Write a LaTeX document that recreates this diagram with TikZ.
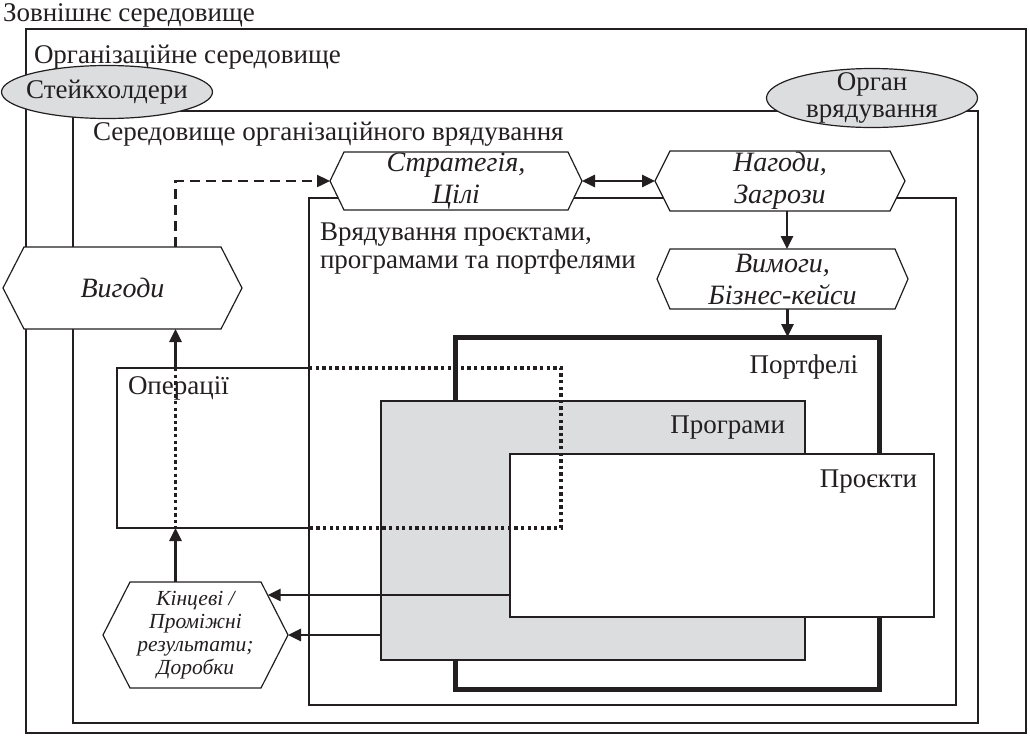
\documentclass[tikz,border=0pt]{standalone}
\usepackage{fontspec}
\setmainfont{Liberation Serif}
\usetikzlibrary{arrows.meta,calc,shapes.geometric}
\pgfdeclarelayer{front}
\pgfsetlayers{main,front}
\definecolor{ink}{HTML}{231F20}
\definecolor{lg}{HTML}{DCDDDF}
\newcommand\hexpath[2]{%
  \draw[hexline] (#1.west) -- ([xshift=#2]#1.north west) -- ([xshift=-#2]#1.north east) -- (#1.east) -- ([xshift=-#2]#1.south east) -- ([xshift=#2]#1.south west) -- cycle;}
\begin{document}
\begin{tikzpicture}[x=1pt,y=-1pt,
  envbox/.style={draw=ink,line width=2.4pt,inner sep=0pt,outer sep=0pt,anchor=north west},
  ghost/.style={inner sep=0pt,outer sep=0pt,anchor=north west},
  hexnode/.style={inner sep=0pt,outer sep=0pt,align=center,text=ink,font=\fontsize{28}{32}\selectfont\itshape},
  hexline/.style={draw=ink,fill=white,line width=1.2pt,line join=miter},
  ellnode/.style={ellipse,draw=ink,fill=lg,line width=1.2pt,inner sep=0pt,outer sep=0pt},
  txt/.style={inner sep=0pt,outer sep=0pt,text=ink,font=\fontsize{27}{30}\selectfont},
  arr/.style={draw=ink,line width=2.8pt,-{Triangle[length=13pt,width=12pt]}},
  biarr/.style={draw=ink,line width=2.8pt,{Triangle[length=13pt,width=12pt]}-{Triangle[length=13pt,width=12pt]}},
  dashln/.style={draw=ink,line width=2.4pt,dash pattern=on 10pt off 6pt,-{Triangle[length=13pt,width=12pt]}},
  dotln/.style={draw=ink,line width=3.3pt,dash pattern=on 3.3pt off 3.3pt},
]
\useasboundingbox (0,0) rectangle (1030,737);

% environment boxes
\node[envbox,minimum width=1000pt,minimum height=704pt] (org) at (26,29) {};
\node[envbox,minimum width=905pt,minimum height=612pt] (gov) at (73,111) {};
\node[envbox,minimum width=647pt,minimum height=507pt] (ppp) at (309,198) {};
\node[envbox,line width=5pt,minimum width=424pt,minimum height=352pt] (port) at (455,337) {};
\node[envbox,fill=lg,minimum width=424pt,minimum height=259pt] (prog) at (381,401) {};
\node[envbox,fill=white,minimum width=424pt,minimum height=163pt] (proj) at (510,454) {};
\node[ghost,minimum width=444pt,minimum height=160pt] (ops) at (117,368) {};

% operations (solid part)
\draw[draw=ink,line width=2.4pt] (ops.north -| ppp.west) -- (ops.north west) -- (ops.south west) -- (ops.south -| ppp.west);

% ellipses
\node[ellnode,minimum width=211pt,minimum height=53pt] (stk) at (107,92) {};
\node[ellnode,minimum width=211pt,minimum height=59pt] (organ) at (872,98) {};

% hexagon nodes (text on front layer)
\begin{pgfonlayer}{front}
\node[hexnode,minimum width=252pt,minimum height=58pt] (strat) at (456,181) {Стратегія,\\Цілі};
\node[hexnode,minimum width=250pt,minimum height=60pt] (nag) at (780,181) {Нагоди,\\Загрози};
\node[hexnode,minimum width=251pt,minimum height=60pt] (vym) at (782.5,279) {Вимоги,\\Бізнес-кейси};
\node[hexnode,minimum width=239pt,minimum height=82pt] (vyg) at (122.5,288) {Вигоди};
\node[hexnode,minimum width=185pt,minimum height=106pt,font=\fontsize{21.5}{23}\selectfont\itshape] (kin) at (195.5,635) {Кінцеві /\\Проміжні\\результати;\\Доробки};

\node[txt,anchor=base west] (tExt) at (3,21) {Зовнішнє середовище};
\node[txt,anchor=base west] (tOrg) at (34,63) {Організаційне середовище};
\node[txt] (tStk) at (stk) {Стейкхолдери};
\node[txt,align=center,font=\fontsize{27}{27}\selectfont] (tOrgan) at (organ) {Орган\\врядування};
\node[txt,anchor=base west] (tGov) at (93,140) {Середовище організаційного врядування};
\node[txt,anchor=base west] (tPPP1) at (320,240) {Врядування проєктами,};
\node[txt,anchor=base west] (tPPP2) at (320,268) {програмами та портфелями};
\node[txt,anchor=base west] (tOps) at (128,394) {Операції};
\node[txt,anchor=base east] (tPort) at (858,373) {Портфелі};
\node[txt,anchor=base east] (tProg) at (785,433) {Програми};
\node[txt,anchor=base east] (tProj) at (917,487) {Проєкти};
\end{pgfonlayer}

\hexpath{strat}{14pt}
\hexpath{nag}{15pt}
\hexpath{vym}{13pt}
\hexpath{vyg}{21pt}
\hexpath{kin}{27pt}

% connectors
\draw[biarr] (strat.east) -- (nag.west);
\draw[arr] ([xshift=7pt]nag.south) -- ([xshift=7pt]nag.south |- vym.north);
\draw[arr] ([xshift=5pt]vym.south) -- ([xshift=5pt]vym.south |- port.north);
\draw[dashln] ([xshift=53pt]vyg.north) |- (strat.west);
\draw[arr] ([xshift=53pt]vyg.south |- ops.north) -- ([xshift=53pt]vyg.south);
\draw[arr] ([xshift=-20pt]kin.north) -- ([xshift=-20pt]kin.north |- ops.south);
\coordinate (kinP) at ($([xshift=-27pt]kin.north east)!0.245!(kin.east)$);
\draw[arr] (proj.west |- kinP) -- (kinP);
\draw[arr] (prog.west |- kin.east) -- (kin.east);

% operations (dotted part)
\draw[dotln] (ops.north -| ppp.west) -- (ops.north east) -- (ops.south east) -- (ops.south -| ppp.west);
\draw[dotln] ([xshift=53pt]vyg.south |- ops.north) -- ([xshift=53pt]vyg.south |- ops.south);
\end{tikzpicture}
\end{document}
